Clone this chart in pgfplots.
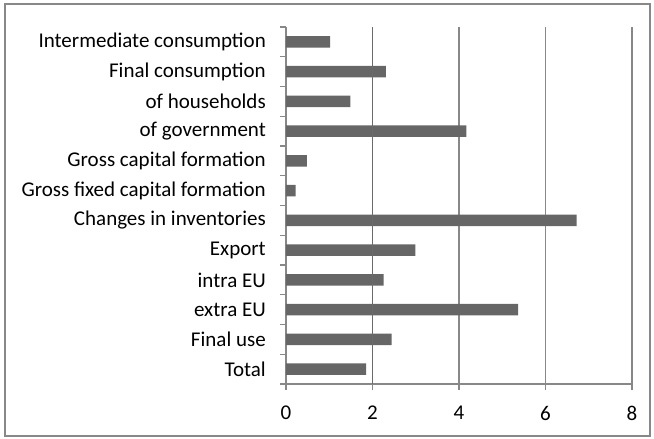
\documentclass[border=0pt]{standalone}
\usepackage{pgfplots}
\pgfplotsset{compat=1.18}
\usepackage{fontspec}
\setmainfont{Carlito}

\definecolor{barc}{HTML}{666666}
\definecolor{gridc}{HTML}{888888}
\definecolor{twoc}{HTML}{6A6A6A}

\begin{document}
\begin{tikzpicture}
\path[use as bounding box] (-286bp,-55bp) rectangle (368bp,384bp);
\begin{axis}[
	at={(0,0)}, anchor=south west,
	scale only axis,
	width=346bp, height=357bp,
	xbar,
	bar width=11.5bp,
	xmin=0, xmax=8,
	ymin=-0.5, ymax=11.5,
	xtick={0,2,4,6,8},
	ytick={0,...,11},
	yticklabels={Total,Final use,extra EU,intra EU,Export,Changes in inventories,Gross fixed capital formation,Gross capital formation,of government,of households,Final consumption,Intermediate consumption},
	minor ytick={-0.5,0.5,...,11.5},
	axis lines*=left,
	axis line style={gridc, line width=1.2bp},
	tick align=outside,
	major tick length=6bp,
	minor tick length=6bp,
	major y tick style={draw=none},
	minor y tick style={gridc, line width=1.2bp},
	major x tick style={gridc, line width=1.2bp},
	xmajorgrids,
	major grid style={gridc, line width=1.2bp},
	/pgf/number format/assume math mode=true,
	tick label style={font=\fontsize{21bp}{25bp}\selectfont, inner sep=0pt},
	yticklabel style={anchor=east, xshift=-14bp},
	xticklabel style={anchor=north, yshift=-16bp},
]
\addplot[fill=barc, draw=none] coordinates {
	(1.85,0) (2.44,1) (5.37,2) (2.26,3) (2.99,4) (6.72,5)
	(0.22,6) (0.48,7) (4.17,8) (1.49,9) (2.31,10) (1.02,11)
};
\draw[twoc, line width=1.8bp] (axis cs:2,-0.5) -- (axis cs:2,11.5);
\end{axis}
\draw[gridc, line width=1.2bp] (-281bp,-52bp) rectangle (364bp,380bp);
\end{tikzpicture}
\end{document}
